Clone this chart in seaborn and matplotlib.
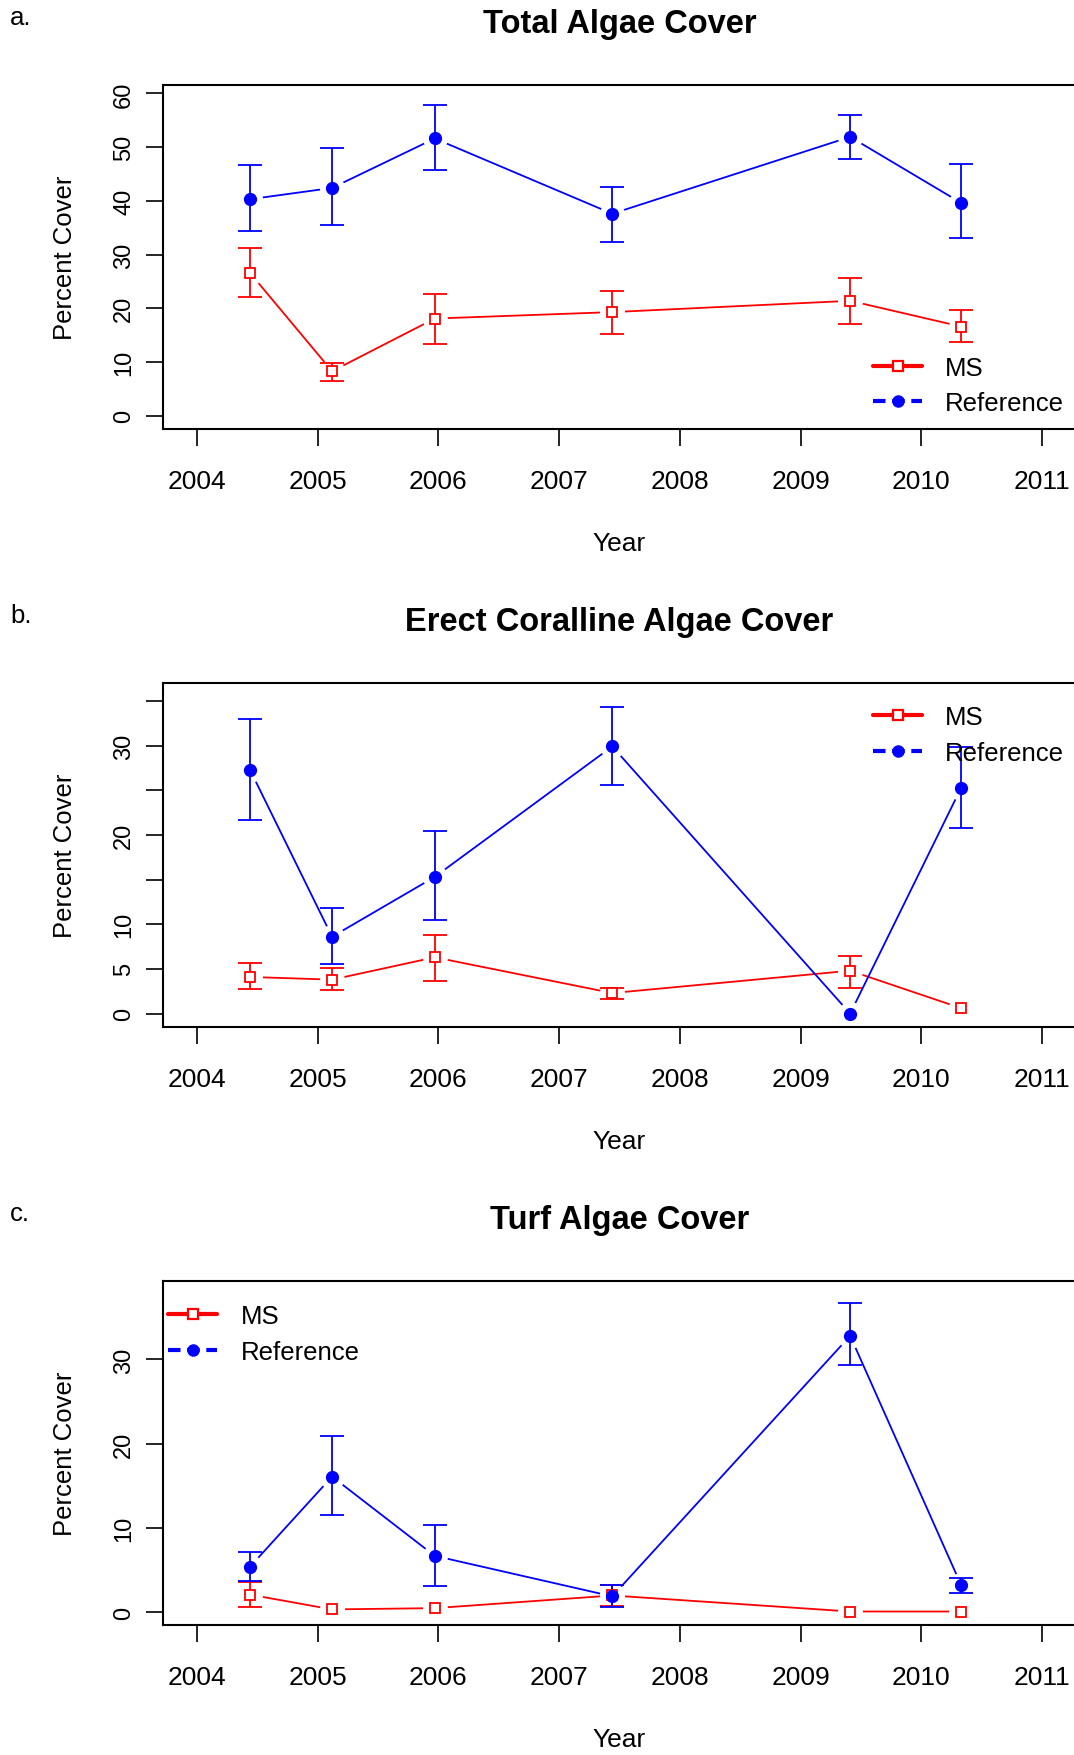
"""
Three stacked panels of percent cover through time, MS sites against
Reference sites, with error bars. Writes out.png.
"""

import matplotlib

matplotlib.use("Agg")
import matplotlib.pyplot as plt
import numpy as np
import pandas as pd
import seaborn as sns
from matplotlib.lines import Line2D

# -----------------------------------------------------------------------------
# Data
# -----------------------------------------------------------------------------
YEARS = [2004.44, 2005.12, 2005.97, 2007.44, 2009.41, 2010.33]
XTICKS = [2004, 2005, 2006, 2007, 2008, 2009, 2010, 2011]
NA = np.nan

# a. Total algae cover
TOTAL_MS = [26.6, 8.3, 18.1, 19.3, 21.4, 16.6]
TOTAL_MS_LO = [22.1, 6.4, 13.4, 15.3, 17.1, 13.7]
TOTAL_MS_HI = [31.2, 9.8, 22.7, 23.3, 25.7, 19.6]
TOTAL_REF = [40.3, 42.4, 51.6, 37.6, 51.9, 39.6]
TOTAL_REF_LO = [34.4, 35.5, 45.7, 32.4, 47.8, 33.1]
TOTAL_REF_HI = [46.6, 49.9, 57.9, 42.6, 56.0, 46.8]

# b. Erect coralline algae cover
ERECT_MS = [4.1, 3.8, 6.3, 2.3, 4.8, 0.6]
ERECT_MS_LO = [2.8, 2.6, 3.7, 1.65, 2.9, NA]
ERECT_MS_HI = [5.7, 5.1, 8.8, 2.9, 6.4, NA]
ERECT_REF = [27.3, 8.6, 15.3, 29.9, 0.0, 25.3]
ERECT_REF_LO = [21.7, 5.5, 10.5, 25.6, NA, 20.8]
ERECT_REF_HI = [33.0, 11.8, 20.4, 34.3, NA, 29.8]

# c. Turf algae cover
TURF_MS = [2.1, 0.35, 0.5, 2.0, 0.1, 0.1]
TURF_MS_LO = [0.6, NA, NA, 0.7, NA, NA]
TURF_MS_HI = [3.6, NA, NA, 3.3, NA, NA]
TURF_REF = [5.4, 16.1, 6.7, 1.9, 32.8, 3.2]
TURF_REF_LO = [3.7, 11.5, 3.1, 0.6, 29.3, 2.35]
TURF_REF_HI = [7.2, 20.9, 10.4, 3.2, 36.7, 4.1]

COLORS = {"MS": "#FF0000", "Reference": "#0000FF"}

# figure geometry in pixels (dpi 100)
W, H = 1074, 1756
AX_LEFT, AX_RIGHT = 163, 1076
AX_H = 344
PANEL_TOPS = [86, 684, 1282]


def _frame(ms, ms_lo, ms_hi, ref, ref_lo, ref_hi) -> pd.DataFrame:
    parts = []
    for site, v, lo, hi in [("MS", ms, ms_lo, ms_hi), ("Reference", ref, ref_lo, ref_hi)]:
        parts.append(pd.DataFrame({"year": YEARS, "cover": v, "lo": lo, "hi": hi, "site": site}))
    return pd.concat(parts, ignore_index=True)


def _legend_handles():
    ms = Line2D([], [], color=COLORS["MS"], lw=3, marker="s", ms=7.5,
                mfc="white", mec=COLORS["MS"], mew=1.6)
    ref = Line2D([], [], color=COLORS["Reference"], lw=3, ls=(0, (3, 1.6)),
                 marker="o", ms=8, mfc=COLORS["Reference"], mec=COLORS["Reference"])
    return [ms, ref]


def draw_panel(fig, top, df, title, letter, ylim, yticks, yticklabels, leg_anchor):
    ax = fig.add_axes([AX_LEFT / W, 1 - (top + AX_H) / H,
                       (AX_RIGHT - AX_LEFT) / W, AX_H / H])

    # connecting lines
    sns.lineplot(data=df, x="year", y="cover", hue="site", palette=COLORS,
                 linewidth=1.3, legend=False, estimator=None, sort=False,
                 ax=ax, zorder=1)

    for site, color in COLORS.items():
        d = df[df["site"] == site]
        # white halo leaves the little gap R's type="b" puts round each point
        ax.plot(d["year"], d["cover"], ls="none", marker="o", ms=18,
                mfc="white", mec="none", zorder=2)
        e = d.dropna(subset=["lo", "hi"])
        ax.errorbar(e["year"], e["cover"],
                    yerr=[e["cover"] - e["lo"], e["hi"] - e["cover"]],
                    fmt="none", ecolor=color, elinewidth=1.3, capsize=8.6,
                    capthick=1.3, zorder=3)

    d = df[df["site"] == "MS"]
    ax.plot(d["year"], d["cover"], ls="none", marker="s", ms=7.5,
            mfc="white", mec=COLORS["MS"], mew=1.3, zorder=4)
    d = df[df["site"] == "Reference"]
    ax.plot(d["year"], d["cover"], ls="none", marker="o", ms=8.5,
            color=COLORS["Reference"], zorder=5)

    ax.set_xlim(2003.72, 2011.28)
    ax.set_ylim(*ylim)
    ax.set_xticks(XTICKS)
    ax.set_xticklabels([str(t) for t in XTICKS])
    ax.set_yticks(yticks)
    ax.set_yticklabels(yticklabels)
    ax.tick_params(axis="both", direction="out", length=12, width=1.2, color="black",
                   labelcolor="black")
    ax.tick_params(axis="x", labelsize=19, pad=17)
    ax.tick_params(axis="y", labelsize=17, pad=8, labelrotation=90)
    for lbl in ax.get_yticklabels():
        lbl.set_va("center")
    for sp in ax.spines.values():
        sp.set_linewidth(1.5)
        sp.set_color("black")

    ax.set_xlabel("Year", fontsize=19, labelpad=27)
    ax.set_ylabel("Percent Cover", fontsize=18.5, labelpad=26)
    ax.text(0.5, 1 + 61 / AX_H, title, transform=ax.transAxes, ha="center",
            va="center", fontsize=23.5, fontweight="bold")
    fig.text(10 / W, 1 - (top - 68) / H, letter, ha="left", va="center", fontsize=18.5)

    ax.legend(handles=_legend_handles(), labels=["MS", "Reference"],
              loc="upper left", bbox_to_anchor=leg_anchor, frameon=False,
              fontsize=18.5, handlelength=1.9, handletextpad=0.9,
              labelspacing=0.45, borderpad=0, borderaxespad=0)
    return ax


def main() -> None:
    sns.set_style("ticks")
    plt.rcParams["font.family"] = ["Liberation Sans", "DejaVu Sans"]
    plt.rcParams["axes.edgecolor"] = "black"
    plt.rcParams["axes.labelcolor"] = "black"
    plt.rcParams["text.color"] = "black"
    plt.rcParams["xtick.color"] = "black"
    plt.rcParams["ytick.color"] = "black"

    fig = plt.figure(figsize=(W / 100, H / 100), dpi=100, facecolor="white")

    draw_panel(fig, PANEL_TOPS[0],
               _frame(TOTAL_MS, TOTAL_MS_LO, TOTAL_MS_HI, TOTAL_REF, TOTAL_REF_LO, TOTAL_REF_HI),
               "Total Algae Cover", "a.", (-2.45, 61.55),
               [0, 10, 20, 30, 40, 50, 60], ["0", "10", "20", "30", "40", "50", "60"],
               (0.778, 0.213))
    draw_panel(fig, PANEL_TOPS[1],
               _frame(ERECT_MS, ERECT_MS_LO, ERECT_MS_HI, ERECT_REF, ERECT_REF_LO, ERECT_REF_HI),
               "Erect Coralline Algae Cover", "b.", (-1.5, 37.0),
               [0, 5, 10, 15, 20, 25, 30, 35], ["0", "5", "10", "", "20", "", "30", ""],
               (0.778, 0.935))
    draw_panel(fig, PANEL_TOPS[2],
               _frame(TURF_MS, TURF_MS_LO, TURF_MS_HI, TURF_REF, TURF_REF_LO, TURF_REF_HI),
               "Turf Algae Cover", "c.", (-1.5, 39.3),
               [0, 10, 20, 30], ["0", "10", "20", "30"],
               (0.006, 0.932))

    fig.savefig("out.png", dpi=100, facecolor="white")
    plt.close(fig)


if __name__ == "__main__":
    main()
